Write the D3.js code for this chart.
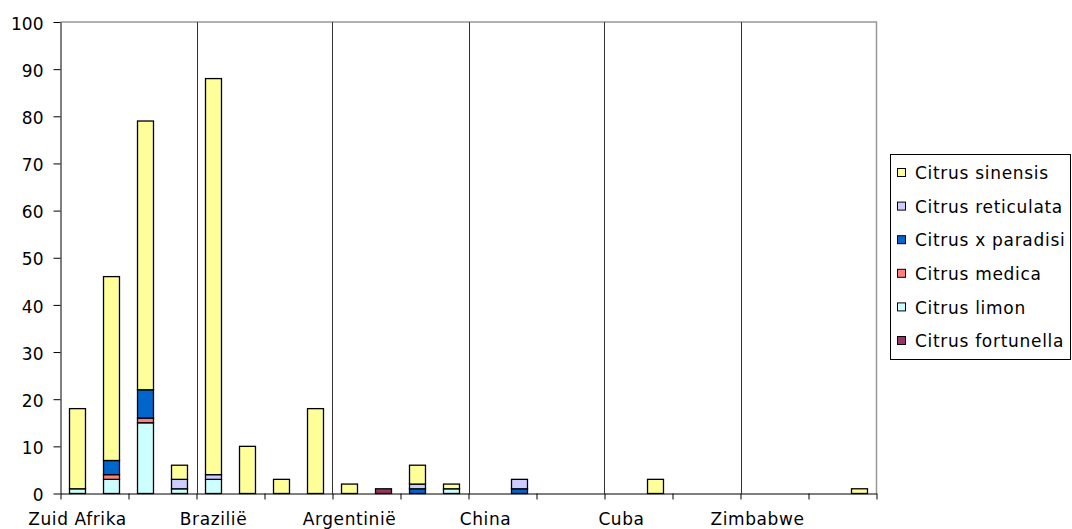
<!DOCTYPE html>
<html>
<head>
<meta charset="utf-8">
<script src="https://cdn.jsdelivr.net/npm/d3@7"></script>
<style>
  html, body { margin: 0; padding: 0; background: #fff; }
  svg { display: block; font-family: "DejaVu Sans", Verdana, sans-serif; }
</style>
</head>
<body>
<svg id="chart" width="1072" height="529"></svg>
<script>
// Countries, each spanning four consecutive bars
const countries = ["Zuid Afrika", "Brazilië", "Argentinië", "China", "Cuba", "Zimbabwe"];
const barsPerCountry = 4;

// Stack order, bottom to top
const seriesNames = ["Citrus fortunella", "Citrus limon", "Citrus medica",
                     "Citrus x paradisi", "Citrus reticulata", "Citrus sinensis"];
const seriesColors = ["#993366", "#CCFFFF", "#FF8080", "#0066CC", "#CCCCFF", "#FFFF99"];

// Values per bar (24 bars)
const fortunella = [0,0,0,0, 0,0,0,0, 0,1,0,0, 0,0,0,0, 0,0,0,0, 0,0,0,0];
const limon      = [1,3,15,1, 3,0,0,0, 0,0,0,1, 0,0,0,0, 0,0,0,0, 0,0,0,0];
const medica     = [0,1,1,0, 0,0,0,0, 0,0,0,0, 0,0,0,0, 0,0,0,0, 0,0,0,0];
const paradisi   = [0,3,6,0, 0,0,0,0, 0,0,1,0, 0,1,0,0, 0,0,0,0, 0,0,0,0];
const reticulata = [0,0,0,2, 1,0,0,0, 0,0,1,0, 0,2,0,0, 0,0,0,0, 0,0,0,0];
const sinensis   = [17,39,57,3, 84,10,3,18, 2,0,4,1, 0,0,0,0, 0,3,0,0, 0,0,0,1];

const yTicks = [0,10,20,30,40,50,60,70,80,90,100];

const seriesValues = [fortunella, limon, medica, paradisi, reticulata, sinensis];
const nBars = countries.length * barsPerCountry;
const rows = d3.range(nBars).map(i => {
  const r = { idx: i };
  seriesNames.forEach((s, k) => r[s] = seriesValues[k][i]);
  return r;
});

const svg = d3.select("#chart");
const plot = { left: 60.5, right: 876.5, top: 22, bottom: 493.5 };

const x = d3.scaleBand()
  .domain(d3.range(nBars))
  .range([plot.left, plot.right])
  .paddingInner(0.53)
  .paddingOuter(0.265);

const xEdge = d3.scaleLinear().domain([0, nBars]).range([plot.left, plot.right]);

const y = d3.scaleLinear().domain([0, 100]).range([plot.bottom, plot.top]);

// Plot frame: top and right border
svg.append("path")
  .attr("d", `M${plot.left},${plot.top}H${plot.right}V${plot.bottom}`)
  .attr("fill", "none")
  .attr("stroke", "#999")
  .attr("stroke-width", 1.5);

// Vertical separators between countries
svg.append("g")
  .selectAll("line")
  .data(d3.range(1, countries.length).map(k => k * barsPerCountry))
  .join("line")
  .attr("x1", d => Math.round(xEdge(d)) + 0.5)
  .attr("x2", d => Math.round(xEdge(d)) + 0.5)
  .attr("y1", plot.top)
  .attr("y2", plot.bottom)
  .attr("stroke", "#333")
  .attr("stroke-width", 1);

// Stacked bars
const stack = d3.stack().keys(seriesNames);
const layers = stack(rows);

svg.append("g")
  .selectAll("g")
  .data(layers)
  .join("g")
  .attr("fill", (d, i) => seriesColors[i])
  .selectAll("rect")
  .data(d => d.filter(p => p[1] - p[0] > 0))
  .join("rect")
  .attr("x", d => x(d.data.idx))
  .attr("y", d => y(d[1]))
  .attr("width", x.bandwidth())
  .attr("height", d => y(d[0]) - y(d[1]))
  .attr("stroke", "#000")
  .attr("stroke-width", 1.3);

// Y axis
const yAxis = svg.append("g")
  .attr("transform", `translate(${plot.left},0)`)
  .call(d3.axisLeft(y).tickValues(yTicks).tickSize(7).tickPadding(10).tickSizeOuter(0));
yAxis.selectAll("text").attr("font-size", 17).attr("fill", "#000")
  .attr("dy", "0.42em")
  .attr("font-family", "DejaVu Sans, Verdana, sans-serif");
yAxis.selectAll("line, path").attr("stroke", "#000");

// X axis: tick marks every two bars
const xAxis = svg.append("g")
  .attr("transform", `translate(0,${plot.bottom})`)
  .call(d3.axisBottom(xEdge).tickValues(d3.range(0, nBars + 1, 2)).tickSize(6).tickFormat("").tickSizeOuter(0));
xAxis.selectAll("line, path").attr("stroke", "#000");

// Country labels under the first bar of each group
const labelAxis = svg.append("g")
  .attr("transform", `translate(0,${plot.bottom})`)
  .call(d3.axisBottom(x)
    .tickValues(d3.range(0, nBars, barsPerCountry))
    .tickSize(0)
    .tickPadding(19)
    .tickFormat(i => countries[i / barsPerCountry]));
labelAxis.select(".domain").remove();
labelAxis.selectAll("text").attr("font-size", 17).attr("fill", "#000")
  .attr("letter-spacing", "0.6px")
  .attr("font-family", "DejaVu Sans, Verdana, sans-serif");

// Legend (top series first)
const legend = svg.append("g");
legend.append("rect")
  .attr("x", 890.5).attr("y", 154.5)
  .attr("width", 180).attr("height", 205)
  .attr("fill", "#fff").attr("stroke", "#000").attr("stroke-width", 1);

const legendOrder = d3.range(seriesNames.length).reverse();
const item = legend.selectAll("g.item")
  .data(legendOrder)
  .join("g")
  .attr("class", "item")
  .attr("transform", (d, i) => `translate(0,${173 + i * 33.6})`);
item.append("rect")
  .attr("x", 897.5).attr("y", -4.5)
  .attr("width", 8).attr("height", 8)
  .attr("fill", d => seriesColors[d])
  .attr("stroke", "#000").attr("stroke-width", 1);
item.append("text")
  .attr("x", 915)
  .attr("y", 0)
  .attr("dy", "0.36em")
  .attr("font-size", 17)
  .attr("letter-spacing", "0.7px")
  .attr("fill", "#000")
  .text(d => seriesNames[d]);
</script>
</body>
</html>
